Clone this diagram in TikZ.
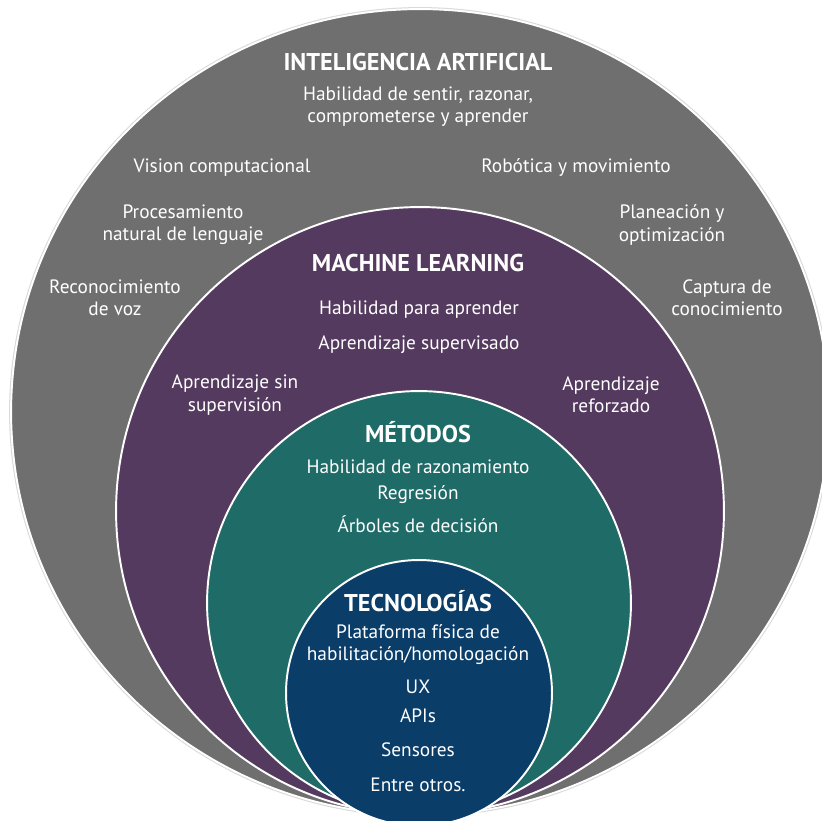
\documentclass[tikz,border=0pt]{standalone}
\usepackage{fontspec}
\setmainfont{PT Sans}
\definecolor{iagray}{HTML}{6F6F6F}
\definecolor{mlpurple}{HTML}{553A5F}
\definecolor{metteal}{HTML}{1F6B67}
\definecolor{tecnavy}{HTML}{0B3D69}
\tikzset{
	title/.style={text=white, font=\bfseries\fontsize{13.8}{16}\selectfont},
	item/.style={text=white, align=center, font=\fontsize{11}{12.6}\selectfont},
	ring/.style={draw=white, line width=1.1pt}
}

\begin{document}
\begin{tikzpicture}[x=0.02cm,y=-0.02cm]
	\useasboundingbox (0,0) rectangle (822,821);
	% define coordinates
	\coordinate (IA) at (420,412);
	\coordinate (ML) at (420,511);
	\coordinate (MET) at (419,603);
	\coordinate (TEC) at (419,693);
	% circles
	\fill[gray!30] (IA) ellipse [x radius=8.22cm, y radius=8.1cm];
	\filldraw[iagray,ring] (IA) ellipse [x radius=8.18cm, y radius=8.06cm];
	\filldraw[mlpurple,ring] (ML) circle [radius=6.08cm];
	\filldraw[metteal,ring] (MET) circle [radius=4.24cm];
	\filldraw[tecnavy,ring] (TEC) circle [radius=2.66cm];
	% inteligencia artificial
	\node[title] (ia) at (418,62) {INTELIGENCIA ARTIFICIAL};
	\node[item] (iadef) at (418,107) {Habilidad de sentir, razonar,\\comprometerse y aprender};
	\node[item] (vision) at (222,168) {Vision computacional};
	\node[item] (robotica) at (576,168) {Robótica y movimiento};
	\node[item] (pln) at (183,225) {Procesamiento\\natural de lenguaje};
	\node[item] (planeacion) at (672,225) {Planeación y\\optimización};
	\node[item] (voz) at (115,298) {Reconocimiento\\de voz};
	\node[item] (captura) at (727,298) {Captura de\\conocimiento};
	% machine learning
	\node[title] (ml) at (418,263) {MACHINE LEARNING};
	\node[item] (mldef) at (419,310) {Habilidad para aprender};
	\node[item] (superv) at (419,345) {Aprendizaje supervisado};
	\node[item] (nosuperv) at (235,395) {Aprendizaje sin\\supervisión};
	\node[item] (reforzado) at (611,395) {Aprendizaje\\reforzado};
	% metodos
	\node[title] (met) at (418,432) {MÉTODOS};
	\node[item] (metdef) at (418,467) {Habilidad de razonamiento};
	\node[item] (regresion) at (418,495) {Regresión};
	\node[item] (arboles) at (418,524) {Árboles de decisión};
	% tecnologias
	\node[title] (tec) at (418,601) {TECNOLOGÍAS};
	\node[item] (plataforma) at (418,645) {Plataforma física de\\habilitación/homologación};
	\node[item] (ux) at (418,687) {UX};
	\node[item] (apis) at (418,716) {APIs};
	\node[item] (sensores) at (418,750) {Sensores};
	\node[item] (otros) at (418,785) {Entre otros.};
\end{tikzpicture}
\end{document}
